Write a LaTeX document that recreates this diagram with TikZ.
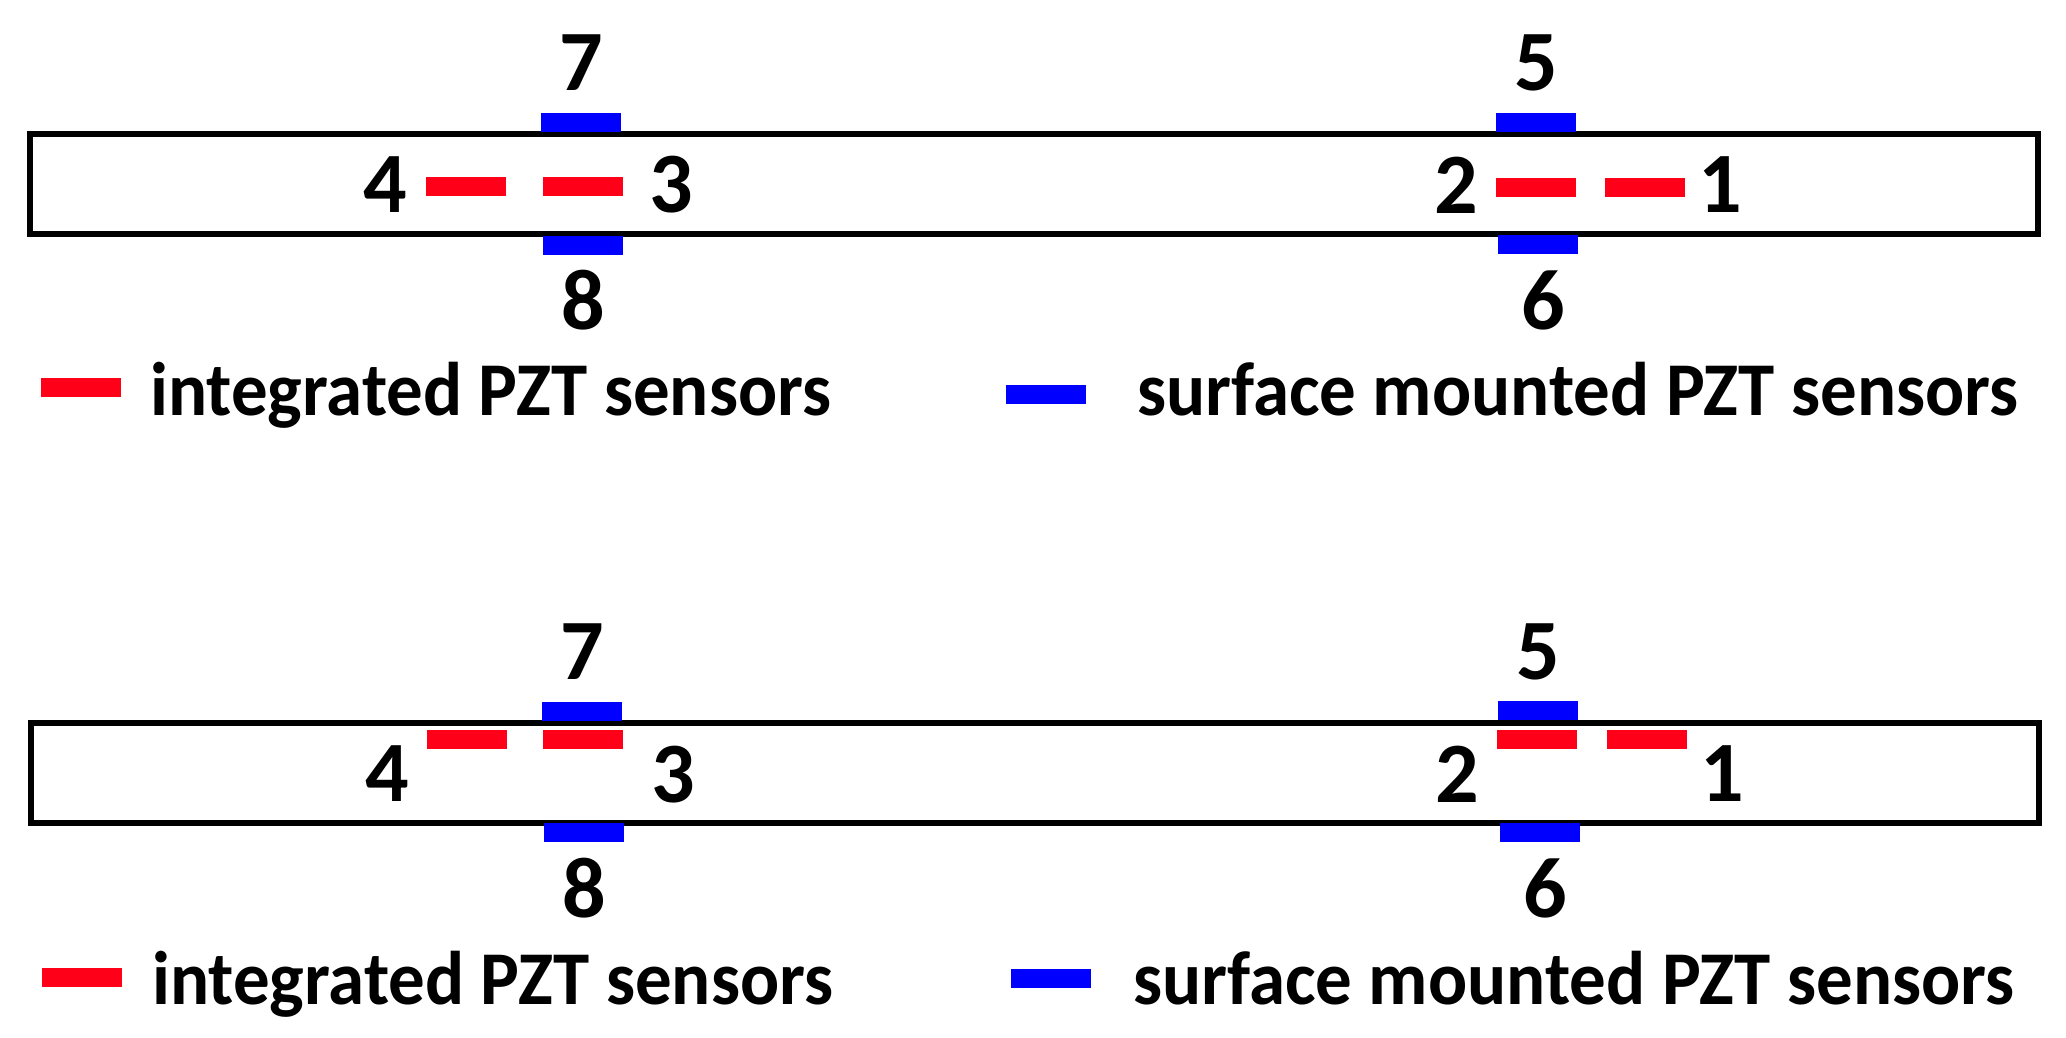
\documentclass[tikz,border=0pt]{standalone}
\usepackage{fontspec}
\setmainfont{Carlito}
\definecolor{sred}{RGB}{255,0,25}
\definecolor{sblue}{RGB}{0,0,255}
\newcommand{\legsq}[1]{\scalebox{0.96}[1]{#1}}
\begin{document}
\begin{tikzpicture}[x=1pt,y=-1pt,
  beam/.style={draw=black,line width=6pt,fill=none,rectangle,inner sep=0pt,minimum width=2008pt,minimum height=100pt},
  redbar/.style={fill=sred,rectangle,inner sep=0pt,minimum width=80pt,minimum height=19pt},
  bluebar/.style={fill=sblue,rectangle,inner sep=0pt,minimum width=80pt,minimum height=19pt},
  num/.style={inner sep=0pt,font=\fontsize{86}{100}\selectfont\bfseries},
  legtext/.style={inner sep=0pt,anchor=base west,font=\fontsize{76}{90}\selectfont\bfseries}]
\useasboundingbox (0,0) rectangle (2066,1037);
% ---------- top beam ----------
\node[beam] (beamA) at (1034,183.5) {};
\node[bluebar] (a7) at (581,122) {};
\node[redbar] (a4) at (466,186.5) {};
\node[redbar] (a3) at (583,186.5) {};
\node[bluebar] (a8) at (583,245) {};
\node[bluebar] (a5) at (1536,122) {};
\node[redbar] (a2) at (1536,187) {};
\node[redbar] (a1) at (1645,187) {};
\node[bluebar] (a6) at (1538,244) {};
\node[num] (la7) at (581,63) {7};
\node[num] (la4) at (385,185) {4};
\node[num] (la3) at (671,185) {3};
\node[num] (la8) at (583,300) {8};
\node[num] (la5) at (1536,63) {5};
\node[num] (la2) at (1456,185) {2};
\node[num] (la1) at (1720,185) {1};
\node[num] (la6) at (1543,300) {6};
% legend top
\node[redbar] (ka) at (81,387) {};
\node[legtext] (ta) at (150,415) {\legsq{integrated PZT sensors}};
\node[bluebar] (kb) at (1046,394) {};
\node[legtext] (tb) at (1137,415) {\legsq{surface mounted PZT sensors}};
% ---------- bottom beam ----------
\node[beam] (beamB) at (1035,772.5) {};
\node[bluebar] (b7) at (582,711) {};
\node[redbar] (b4) at (467,739) {};
\node[redbar] (b3) at (583,739) {};
\node[bluebar] (b8) at (584,832) {};
\node[bluebar] (b5) at (1538,710) {};
\node[redbar] (b2) at (1537,739) {};
\node[redbar] (b1) at (1647,739) {};
\node[bluebar] (b6) at (1540,832) {};
\node[num] (lb7) at (582,652) {7};
\node[num] (lb4) at (387,774) {4};
\node[num] (lb3) at (673,775) {3};
\node[num] (lb8) at (584,888) {8};
\node[num] (lb5) at (1538,652) {5};
\node[num] (lb2) at (1457,774) {2};
\node[num] (lb1) at (1722,774) {1};
\node[num] (lb6) at (1545,888) {6};
% legend bottom
\node[redbar] (kc) at (82,977) {};
\node[legtext] (tc) at (152,1004) {\legsq{integrated PZT sensors}};
\node[bluebar] (kd) at (1051,978) {};
\node[legtext] (td) at (1133,1004) {\legsq{surface mounted PZT sensors}};
\end{tikzpicture}
\end{document}
